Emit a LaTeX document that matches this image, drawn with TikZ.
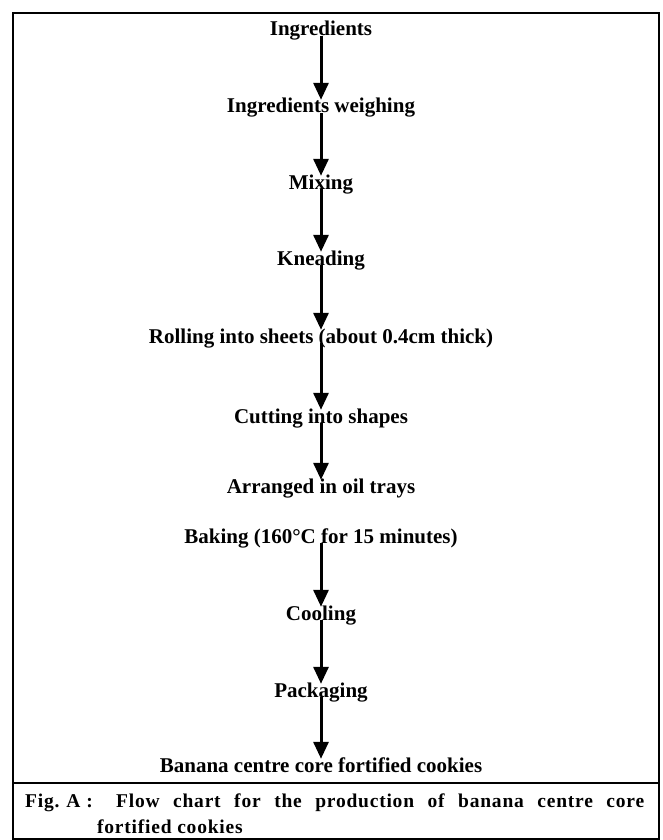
\documentclass[tikz,border=0pt]{standalone}
\usepackage{fontspec}
\setmainfont{Liberation Serif}
\newfontfamily\capfont[LetterSpace=4]{Liberation Serif}
\usetikzlibrary{arrows.meta}
\begin{document}
\begin{tikzpicture}[x=1pt,y=-1pt,
  stepnode/.style={font=\fontsize{21}{24}\selectfont\bfseries, inner sep=0pt, anchor=base, text height=13pt, text depth=0pt},
  capnode/.style={font=\capfont\bfseries\fontsize{19.5}{22}\selectfont, inner sep=0pt, anchor=base west},
  flow/.style={line width=3pt, -{Triangle[width=15pt,length=17pt]}},
  frame/.style={line width=2pt}]
\useasboundingbox (0,0) rectangle (662,840);
\draw[frame] (13,13) rectangle (659,839);
\draw[frame] (13,783) -- (659,783);

\node[stepnode] (n1) at (321,36) {Ingredients};
\node[stepnode] (n2) at (321,113) {Ingredients weighing};
\node[stepnode] (n3) at (321,189) {Mixing};
\node[stepnode] (n4) at (321,265) {Kneading};
\node[stepnode] (n5) at (321,343) {Rolling into sheets (about 0.4cm thick)};
\node[stepnode] (n6) at (321,423) {Cutting into shapes};
\node[stepnode] (n7) at (321,493) {Arranged in oil trays};
\node[stepnode] (n8) at (321,543) {Baking (160°C for 15 minutes)};
\node[stepnode] (n9) at (321,620) {Cooling};
\node[stepnode] (n10) at (321,697) {Packaging};
\node[stepnode] (n11) at (321,772) {Banana centre core fortified cookies};

\draw[flow] (n1.south) -- (n2.north);
\draw[flow] (n2.south) -- (n3.north);
\draw[flow] (n3.south) -- (n4.north);
\draw[flow] (n4.south) -- (n5.north);
\draw[flow] (n5.south) -- (n6.north);
\draw[flow] (n6.south) -- (n7.north);
\draw[flow] (n8.south) -- (n9.north);
\draw[flow] (n9.south) -- (n10.north);
\draw[flow] (n10.south) -- (n11.north);

\node[capnode] (c1) at (25,807) {\makebox[619pt][s]{Fig.\hspace{0.35em}A\hspace{0.3em}:\hspace{1.2em}Flow chart for the production of banana centre core}};
\node[capnode] (c2) at (97,833) {fortified cookies};
\end{tikzpicture}
\end{document}
